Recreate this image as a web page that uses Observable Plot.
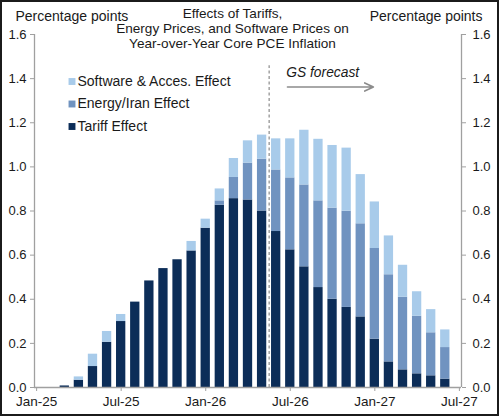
<!DOCTYPE html>
<html>
<head>
<meta charset="utf-8">
<script src="https://cdn.jsdelivr.net/npm/d3@7"></script>
<script src="https://cdn.jsdelivr.net/npm/@observablehq/plot@0.6"></script>
<style>
  html, body { margin: 0; padding: 0; background: #fff; }
  #wrap { position: relative; width: 499px; height: 416px; overflow: hidden; }
  #border { position: absolute; left: 0; top: 0; width: 499px; height: 416px; box-sizing: border-box; border: 2px solid #1b1b1b; pointer-events: none; }
</style>
</head>
<body>
<div id="wrap"><div id="border"></div></div>
<script>
// Month labels (index 0 = Jan-25 ... 30 = Jul-27)
const months = ["Jan-25","Feb-25","Mar-25","Apr-25","May-25","Jun-25","Jul-25","Aug-25","Sep-25","Oct-25","Nov-25","Dec-25",
                "Jan-26","Feb-26","Mar-26","Apr-26","May-26","Jun-26","Jul-26","Aug-26","Sep-26","Oct-26","Nov-26","Dec-26",
                "Jan-27","Feb-27","Mar-27","Apr-27","May-27","Jun-27","Jul-27"];
const tickLabels = ["Jan-25","Jul-25","Jan-26","Jul-26","Jan-27","Jul-27"];

// Series values (percentage points), Jan-25 .. Jun-27
const tariff   = [0, 0, 0.007, 0.033, 0.095, 0.205, 0.299, 0.387, 0.483, 0.539, 0.579, 0.619, 0.722, 0.826, 0.856, 0.850,
                  0.800, 0.707, 0.624, 0.547, 0.453, 0.400, 0.363, 0.320, 0.219, 0.116, 0.080, 0.062, 0.053, 0.038];
const energy   = [0, 0, 0, 0, 0, 0, 0, 0, 0, 0, 0, 0, 0, 0.020, 0.096, 0.167,
                  0.235, 0.279, 0.326, 0.371, 0.393, 0.413, 0.436, 0.422, 0.411, 0.395, 0.329, 0.261, 0.195, 0.143];
const software = [0, 0, 0, 0.015, 0.056, 0.049, 0.032, 0, 0, 0, 0, 0.043, 0.041, 0.054, 0.086, 0.101,
                  0.109, 0.141, 0.177, 0.248, 0.279, 0.284, 0.286, 0.223, 0.211, 0.176, 0.145, 0.111, 0.105, 0.080];

const seriesNames = ["Software & Acces. Effect", "Energy/Iran Effect", "Tariff Effect"];
const seriesColors = ["#a8cbea", "#7093c0", "#0c2d58"];

const yTicks = [0, 0.2, 0.4, 0.6, 0.8, 1.0, 1.2, 1.4, 1.6];
const forecastStart = 16.5;   // between May-26 and Jun-26
const forecastLabel = "GS forecast";
const forecastArrow = {x1: 17.8, x2: 23.9, y: 1.362, labelX: 20.3, labelY: 1.426, lineTop: 1.458};

const title = "Effects of Tariffs,\nEnergy Prices, and Software Prices on\nYear-over-Year Core PCE Inflation";
const yLabel = "Percentage points";

const xDomain = [-0.15, 30.15];

// Build tidy table
const rows = [];
tariff.forEach((v, i) => {
  rows.push({i, month: months[i], series: "Tariff Effect", value: v});
  rows.push({i, month: months[i], series: "Energy/Iran Effect", value: energy[i]});
  rows.push({i, month: months[i], series: "Software & Acces. Effect", value: software[i]});
});

const font = "'Liberation Sans', Arial, Helvetica, sans-serif";
const axisGray = "#a0a0a0";
const textColor = "#1a1a1a";

const legendMarks = seriesNames.flatMap((name, k) => [
  Plot.dot([name], {frameAnchor: "top-left", dx: 37.5, dy: 47 + k * 22.5, symbol: "square", r: 3.9, fill: seriesColors[k]}),
  Plot.text([name], {frameAnchor: "top-left", dx: 43, dy: 47 + k * 22.5, text: d => d, textAnchor: "start", lineAnchor: "middle", fontSize: 14, fill: textColor})
]);

const chart = Plot.plot({
  width: 499,
  height: 416,
  marginLeft: 34,
  marginRight: 38,
  marginTop: 34,
  marginBottom: 29,
  style: {fontFamily: font, fontSize: "13.5px", color: textColor, background: "transparent", overflow: "visible"},
  x: {type: "linear", domain: xDomain},
  y: {domain: [0, 1.6]},
  color: {domain: seriesNames, range: seriesColors},
  marks: [
    Plot.rectY(rows, {
      x1: d => d.i - 0.33,
      x2: d => d.i + 0.33,
      y: "value",
      fill: "series",
      order: ["Tariff Effect", "Energy/Iran Effect", "Software & Acces. Effect"]
    }),
    Plot.ruleX(xDomain, {stroke: axisGray, strokeWidth: 1.3}),
    Plot.ruleY([0], {stroke: axisGray, strokeWidth: 1.3}),
    Plot.axisY({anchor: "left", ticks: yTicks, tickFormat: d => d.toFixed(1), tickSize: 4, tickPadding: 4, stroke: axisGray, fill: textColor, fontSize: 13, label: null}),
    Plot.axisY({anchor: "right", ticks: yTicks, tickFormat: d => d.toFixed(1), tickSize: 4, tickPadding: 7, stroke: axisGray, fill: textColor, fontSize: 13, label: null}),
    Plot.axisX({ticks: tickLabels.map(t => months.indexOf(t)), tickFormat: i => months[i], tickSize: 4, tickPadding: 5, stroke: axisGray, fill: textColor, fontSize: 13.5, label: null}),
    Plot.ruleX([forecastStart], {y1: 0, y2: forecastArrow.lineTop, stroke: "#8c8c8c", strokeWidth: 1.2, strokeDasharray: "3,2.5"}),
    Plot.arrow([forecastArrow], {x1: "x1", x2: "x2", y1: "y", y2: "y", stroke: "#8c8c8c", strokeWidth: 1.6, headLength: 9, headAngle: 50}),
    Plot.text([forecastLabel], {x: forecastArrow.labelX, y: forecastArrow.labelY, text: d => d, fontStyle: "italic", fontSize: 13.8, fill: textColor}),
    Plot.text([title], {frameAnchor: "top", dx: -15.5, dy: -27, text: d => d, lineAnchor: "top", lineHeight: 1.1, fontSize: 13.6, fill: textColor}),
    Plot.text([yLabel], {frameAnchor: "top-left", dx: -19, dy: -18.3, text: d => d, textAnchor: "start", lineAnchor: "middle", fontSize: 14, fill: textColor}),
    Plot.text([yLabel], {frameAnchor: "top-right", dx: 21, dy: -18.3, text: d => d, textAnchor: "end", lineAnchor: "middle", fontSize: 14, fill: textColor}),
    ...legendMarks
  ]
});

document.getElementById("wrap").insertBefore(chart, document.getElementById("border"));
</script>
</body>
</html>
